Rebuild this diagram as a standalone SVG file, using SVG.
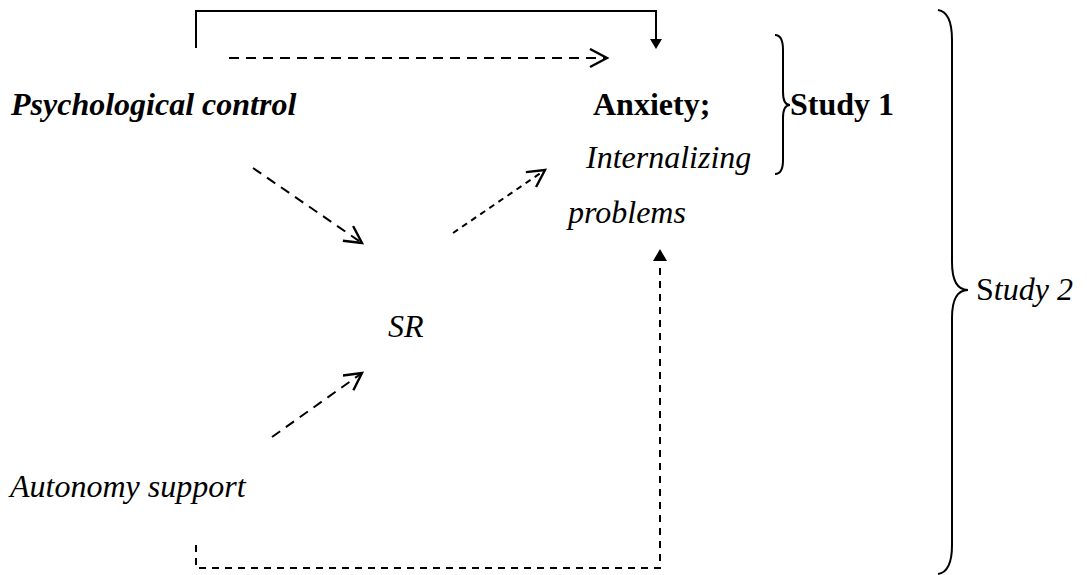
<svg xmlns="http://www.w3.org/2000/svg" width="1087" height="575" viewBox="0 0 1087 575">
<style>
text{font-family:"Liberation Serif","Times New Roman",serif;font-size:32px;fill:#000}
.bi{font-weight:bold;font-style:italic}
.b{font-weight:bold}
.i{font-style:italic}
.ln{fill:none;stroke:#000;stroke-width:2}
.d1{stroke-dasharray:10 7}
.d2{stroke-dasharray:7 6}
.d3{stroke-dasharray:6 5}
.br{fill:none;stroke:#000;stroke-width:2}
</style>
<defs>
<marker id="open" markerUnits="userSpaceOnUse" markerWidth="22" markerHeight="22" refX="18" refY="10" orient="auto">
<path d="M1 1 L18 10 L1 19" fill="none" stroke="#000" stroke-width="2.4"/>
</marker>
</defs>
<g id="connectors">
<path class="ln" d="M196 48 L196 11 L656 11 L656 40"/>
<polygon points="650,39 662,39 656,49" fill="#000"/>
<path class="ln d1" d="M229 58 L607 58" marker-end="url(#open)"/>
<path class="ln d1" d="M253 168 L362 243" marker-end="url(#open)"/>
<path class="ln d3" d="M453 233 L545 170" marker-end="url(#open)"/>
<path class="ln d1" d="M272 437 L362 373" marker-end="url(#open)"/>
<path class="ln d2" d="M196 545 L196 568 L660 568 L660 262"/>
<polygon points="653,261 667,261 660,249" fill="#000"/>
</g>
<g id="psychological-control"><text class="bi" x="11" y="115">Psychological control</text></g>
<g id="anxiety"><text class="b" x="593" y="115">Anxiety;</text><text class="i" x="586" y="168">Internalizing</text><text class="i" x="568" y="223">problems</text></g>
<g id="sr"><text class="i" x="388" y="337">SR</text></g>
<g id="autonomy-support"><text class="i" x="10" y="497">Autonomy support</text></g>
<g id="study1">
<path class="br" d="M775 35 Q783 35 783 50 L783 92 Q783 105 790 105 Q783 105 783 118 L783 160 Q783 174 775 174"/>
<text class="b" x="790" y="115">Study 1</text>
</g>
<g id="study2">
<path class="br" d="M938 10 Q952 12 952 40 L952 262 Q952 290 968 290 Q952 290 952 318 L952 545 Q952 572 938 574"/>
<text x="976" y="300">S<tspan class="i">tudy 2</tspan></text>
</g>
</svg>
